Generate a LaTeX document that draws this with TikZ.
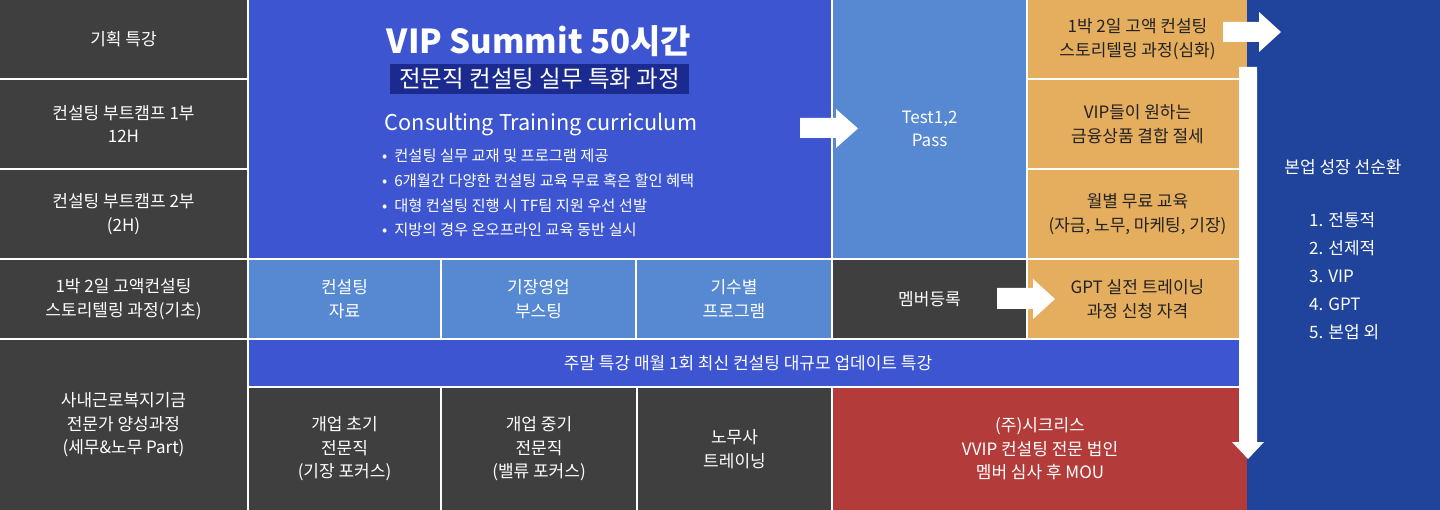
\documentclass[tikz,border=0pt]{standalone}
\usepackage{fontspec}
\setmainfont{Noto Sans CJK KR}
\definecolor{dk}{HTML}{3F3F3F}
\definecolor{bl}{HTML}{3D55D1}
\definecolor{lb}{HTML}{5789D2}
\definecolor{og}{HTML}{E5AD5E}
\definecolor{nv}{HTML}{20449C}
\definecolor{rd}{HTML}{B33C3A}
\definecolor{bn}{HTML}{1B2A8E}
\definecolor{ink}{HTML}{222222}
\begin{document}
\begin{tikzpicture}[x=1pt,y=-1pt,
  cell/.style={anchor=north west,inner sep=0pt,outer sep=0pt,align=center,text=white,
    font=\fontsize{17}{23.5}\selectfont},
  ocell/.style={cell,fill=og,text=ink},
  blockarrow/.style={fill=white,draw=none}]
\useasboundingbox (0,0) rectangle (1440,510);
\fill[white] (0,0) rectangle (1440,510);
% right navy column
\node[cell,fill=nv,minimum width=193pt,minimum height=510pt] (navy) at (1247,0) {};
% left column
\node[cell,fill=dk,minimum width=247pt,minimum height=78pt] (l1) at (0,0) {기획 특강};
\node[cell,fill=dk,minimum width=247pt,minimum height=88pt] (l2) at (0,80) {컨설팅 부트캠프 1부\\12H};
\node[cell,fill=dk,minimum width=247pt,minimum height=88pt] (l3) at (0,170) {컨설팅 부트캠프 2부\\(2H)};
\node[cell,fill=dk,minimum width=247pt,minimum height=78pt] (l4) at (0,260) {1박 2일 고액컨설팅\\스토리텔링 과정(기초)};
\node[cell,fill=dk,minimum width=247pt,minimum height=170pt] (l5) at (0,340) {사내근로복지기금\\전문가 양성과정\\(세무\&노무 Part)};
% big block
\node[cell,fill=bl,minimum width=582pt,minimum height=258pt] (big) at (249,0) {};
\node[inner sep=0pt,text=white,font=\fontsize{33}{38}\selectfont\bfseries] (title) at (539,41) {VIP Summit 50시간};
\node[fill=bn,inner sep=0pt,minimum width=299pt,minimum height=30pt,text=white,font=\fontsize{23.5}{26}\selectfont] (banner) at (539.5,79) {전문직 컨설팅 실무 특화 과정};
\node[inner sep=0pt,text=white,font=\fontsize{21.7}{26}\selectfont] (ctc) at (541,125) {Consulting Training curriculum};
\node[anchor=north west,inner sep=0pt,text=white,align=left,font=\fontsize{15.3}{24.7}\selectfont] (bul) at (382,149)
 {•\hspace{7pt}컨설팅 실무 교재 및 프로그램 제공\\
  •\hspace{7pt}6개월간 다양한 컨설팅 교육 무료 혹은 할인 혜택\\
  •\hspace{7pt}대형 컨설팅 진행 시 TF팀 지원 우선 선발\\
  •\hspace{7pt}지방의 경우 온오프라인 교육 동반 실시};
% test column
\node[cell,fill=lb,minimum width=193pt,minimum height=258pt] (test) at (833,0) {Test1,2\\Pass};
% orange column
\node[ocell,minimum width=219pt,minimum height=78pt] (o1) at (1028,0) {1박 2일 고액 컨설팅\\스토리텔링 과정(심화)};
\node[ocell,minimum width=219pt,minimum height=88pt] (o2) at (1028,80) {VIP들이 원하는\\금융상품 결합 절세};
\node[ocell,minimum width=219pt,minimum height=88pt] (o3) at (1028,170) {월별 무료 교육\\(자금, 노무, 마케팅, 기장)};
% middle row
\node[cell,fill=lb,minimum width=191pt,minimum height=78pt] (m1) at (249,260) {컨설팅\\자료};
\node[cell,fill=lb,minimum width=193pt,minimum height=78pt] (m2) at (442,260) {기장영업\\부스팅};
\node[cell,fill=lb,minimum width=194pt,minimum height=78pt] (m3) at (637,260) {기수별\\프로그램};
\node[cell,fill=dk,minimum width=193pt,minimum height=78pt] (mem) at (833,260) {멤버등록};
\node[ocell,minimum width=219pt,minimum height=78pt] (gpt) at (1028,260) {GPT 실전 트레이닝\\과정 신청 자격};
% strip
\node[cell,fill=bl,minimum width=998pt,minimum height=46pt] (strip) at (249,340) {주말 특강 매월 1회 최신 컨설팅 대규모 업데이트 특강};
% bottom row
\node[cell,fill=dk,minimum width=191pt,minimum height=122pt] (b1) at (249,388) {개업 초기\\전문직\\(기장 포커스)};
\node[cell,fill=dk,minimum width=194pt,minimum height=122pt] (b2) at (442,388) {개업 중기\\전문직\\(밸류 포커스)};
\node[cell,fill=dk,minimum width=193pt,minimum height=122pt] (b3) at (638,388) {노무사\\트레이닝};
\node[cell,fill=rd,minimum width=414pt,minimum height=122pt] (red) at (833,388) {(주)시크리스\\VVIP 컨설팅 전문 법인\\멤버 심사 후 MOU};
% navy text
\node[inner sep=0pt,text=white,font=\fontsize{17}{24}\selectfont] (cyc) at (1343,167) {본업 성장 선순환};
\node[anchor=north west,inner sep=0pt,text=white,align=left,font=\fontsize{17}{28}\selectfont] (list) at (1309,212)
 {1. 전통적\\2. 선제적\\3. VIP\\4. GPT\\5. 본업 외};
% block arrows
\fill[blockarrow] (800,118) -- (836,118) -- (836,109) -- (858,128.5) -- (836,148) -- (836,138) -- (800,138) -- cycle;
\fill[blockarrow] (1223,22) -- (1259,22) -- (1259,12) -- (1281,32) -- (1259,52) -- (1259,42) -- (1223,42) -- cycle;
\fill[blockarrow] (997,288) -- (1033,288) -- (1033,279) -- (1055,299) -- (1033,319) -- (1033,309) -- (997,309) -- cycle;
\fill[blockarrow] (1239,67) -- (1257,67) -- (1257,442) -- (1264,442) -- (1248,459) -- (1232,442) -- (1239,442) -- cycle;
\end{tikzpicture}
\end{document}
